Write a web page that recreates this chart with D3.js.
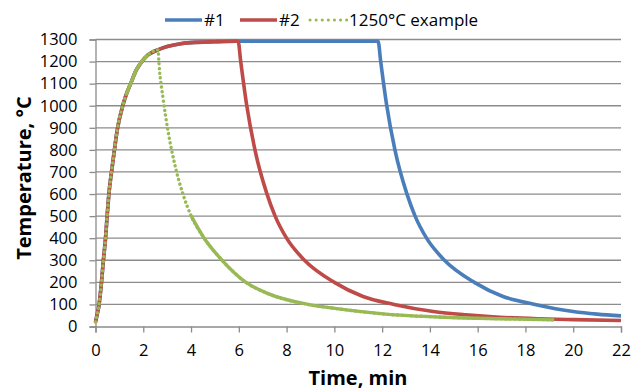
<!DOCTYPE html>
<html>
<head>
<meta charset="utf-8">
<script src="https://cdn.jsdelivr.net/npm/d3@7"></script>
<style>
	body { margin: 0; background: #fff; }
	svg { display: block; font-family: "Open Sans", sans-serif; }
</style>
</head>
<body>
<div id="chart"></div>
<script>
"use strict";

// heating part shared by all runs (time min, temp C)
var heating = [
	[0, 20], [0.05, 45], [0.15, 100], [0.25, 200], [0.33, 300], [0.42, 400],
	[0.5, 520], [0.56, 600], [0.67, 700], [0.78, 790], [0.91, 890], [1.14, 1000],
	[1.3, 1055], [1.47, 1100], [1.7, 1160], [1.94, 1200], [2.2, 1230], [2.61, 1253]
];

var hold = [[3.0, 1268], [3.5, 1280], [4.0, 1286], [5.0, 1290], [5.9, 1292]];

var run1Cool = [
	[11.83, 1292], [11.94, 1200], [12.18, 1009], [12.54, 798], [13.03, 603],
	[13.38, 500], [13.86, 400], [14.61, 300], [15.86, 200], [17.06, 136],
	[18.4, 100], [20.0, 68], [21.0, 56], [22, 48]
];

var run2Cool = [
	[5.97, 1292], [6.08, 1200], [6.32, 1009], [6.68, 798], [7.17, 603],
	[7.52, 500], [8.0, 400], [8.75, 300], [10.0, 200], [11.2, 136],
	[12.5, 100], [14.14, 68], [15.5, 53], [16.93, 42], [18.5, 35], [20, 31], [22, 27]
];

var exampleCool = [
	[2.68, 1160], [2.82, 1039], [3.03, 889], [3.31, 738], [3.66, 600],
	[4.01, 500], [4.55, 400], [5.3, 300], [6.3, 200], [7.2, 150], [8.9, 100],
	[9.95, 83], [12.04, 57], [14.84, 41], [17, 35], [19.2, 30]
];

var run1 = heating.concat(hold, run1Cool);
var run2 = heating.concat(hold, run2Cool);
var example = heating.concat(exampleCool);

var xTicks = d3.range(0, 23, 2);
var yTicks = d3.range(0, 1301, 100);

// time ranges where the example curve looks dotted
var dotRanges = [[0, 1.2], [2.6, 3.9]];

var series = [
	{ name: "#1", values: run1, color: "#4a7ebb" },
	{ name: "#2", values: run2, color: "#be4b48" },
	{ name: "1250°C example", values: example, color: "#98b954", dotted: true }
];

var width = 632, height = 391;
var margin = { top: 39.5, right: 11, bottom: 64.5, left: 95.5 };

var svg = d3.select("#chart").append("svg")
	.attr("width", width)
	.attr("height", height);

var x = d3.scaleLinear().domain([0, 22]).range([margin.left, width - margin.right]);
var y = d3.scaleLinear().domain([0, 1300]).range([height - margin.bottom, margin.top]);

// horizontal grid
svg.append("g")
	.selectAll("line")
	.data(yTicks.filter(d => d > 0))
	.enter().append("line")
	.attr("x1", x(0))
	.attr("x2", x(22))
	.attr("y1", d => y(d))
	.attr("y2", d => y(d))
	.style("stroke", "#8c8c8c")
	.style("stroke-width", 1.3);

// axes
var yAxis = svg.append("g")
	.attr("transform", `translate(${x(0)},0)`)
	.call(d3.axisLeft(y).tickValues(yTicks).tickFormat(d3.format("d")).tickSize(6).tickPadding(12));

var xAxis = svg.append("g")
	.attr("transform", `translate(0,${y(0)})`)
	.call(d3.axisBottom(x).tickValues(xTicks).tickFormat(d3.format("d")).tickSize(6).tickPadding(12));

[xAxis, yAxis].forEach(function (g) {
	g.select(".domain").style("stroke", "#8c8c8c").style("stroke-width", 1.3);
	g.selectAll(".tick line").style("stroke", "#8c8c8c").style("stroke-width", 1.3);
	g.selectAll(".tick text")
		.style("font-family", "'Open Sans', sans-serif")
		.style("font-size", "16.5px")
		.style("fill", "#000");
});

var line = d3.line()
	.x(d => x(d[0]))
	.y(d => y(d[1]))
	.curve(d3.curveMonotoneX);

var inDots = t => dotRanges.some(r => t >= r[0] && t <= r[1]);

series.forEach(function (s) {
	if (!s.dotted) {
		svg.append("path")
			.datum(s.values)
			.attr("d", line)
			.style("fill", "none")
			.style("stroke", s.color)
			.style("stroke-width", 3.6)
			.style("stroke-linejoin", "round");
		return;
	}
	// full dotted curve, then solid where points are dense
	svg.append("path")
		.datum(s.values)
		.attr("d", line)
		.style("fill", "none")
		.style("stroke", s.color)
		.style("stroke-width", 3.4)
		.style("stroke-linecap", "round")
		.style("stroke-dasharray", "0.1 4.6");

	svg.append("path")
		.datum(s.values)
		.attr("d", line.defined(d => !inDots(d[0])))
		.style("fill", "none")
		.style("stroke", s.color)
		.style("stroke-width", 3.4)
		.style("stroke-linejoin", "round");
	line.defined(() => true);
});

// legend
var legendX = [165, 240, 310];
var legend = svg.append("g")
	.selectAll("g")
	.data(series)
	.enter().append("g")
	.attr("transform", (d, i) => `translate(${legendX[i]},20)`);

legend.append("line")
	.attr("x1", 0)
	.attr("x2", 37)
	.style("stroke", d => d.color)
	.style("stroke-width", d => d.dotted ? 3 : 3.6)
	.style("stroke-linecap", d => d.dotted ? "round" : "butt")
	.style("stroke-dasharray", d => d.dotted ? "0.1 6" : null);

legend.append("text")
	.attr("x", 39)
	.attr("dy", "0.35em")
	.style("font-size", "17px")
	.text(d => d.name);

// axis titles
svg.append("text")
	.attr("transform", "translate(31,178) rotate(-90)")
	.attr("text-anchor", "middle")
	.style("font-size", "20px")
	.style("font-weight", "bold")
	.text("Temperature, °C");

svg.append("text")
	.attr("x", 358)
	.attr("y", 385)
	.attr("text-anchor", "middle")
	.style("font-size", "20px")
	.style("font-weight", "bold")
	.text("Time, min");
</script>
</body>
</html>
